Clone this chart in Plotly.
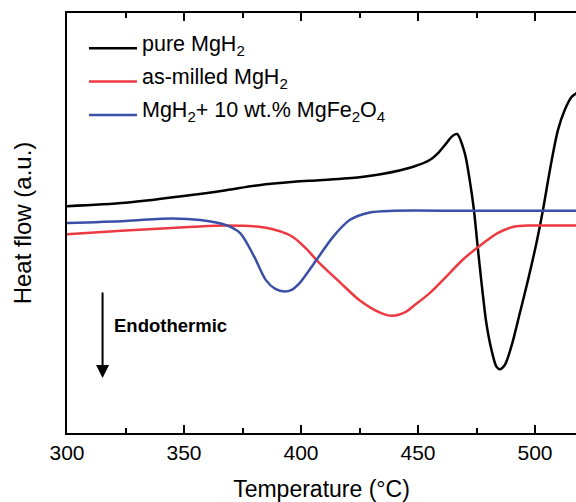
import plotly.graph_objects as go

# DSC traces: temperature (°C) vs heat flow (arbitrary units)
temp_pure = [300, 325, 354, 368, 382, 397, 408, 425, 434, 448, 455, 459, 462, 464.3, 466.7,
             470.0, 472.1, 473.9, 475.2, 476.4, 477.8, 479.2, 481.4, 483.5, 484.9, 487.1,
             489.9, 493.5, 497.0, 500.6, 503.4, 505.6, 507.7, 509.8, 512.7, 515.6, 517.4, 520]
hf_pure = [54.0, 54.8, 56.7, 57.8, 59.0, 59.8, 60.2, 60.9, 61.6, 63.4, 65.0, 66.9, 68.9, 70.5, 71.2,
           66.6, 60.2, 53.1, 46.0, 39.6, 32.5, 26.2, 19.8, 15.8, 15.2, 16.2,
           20.6, 28.5, 36.4, 45.2, 53.1, 60.2, 66.6, 72.1, 76.9, 80.0, 80.8, 82.0]

temp_milled = [300, 325, 354, 368, 382, 388, 394, 397, 402, 408, 417, 425, 434, 439, 445,
               448, 455, 462, 469, 476, 484, 491, 498, 510, 520]
hf_milled = [47.3, 48.2, 49.1, 49.4, 49.1, 48.5, 47.4, 46.5, 44.0, 40.4, 35.7, 31.6, 28.6, 27.9, 28.9,
             30.2, 33.3, 37.2, 41.2, 44.4, 47.6, 49.1, 49.4, 49.4, 49.4]

temp_doped = [300, 325, 345, 357, 368, 374, 380, 385, 389, 393, 396, 399.4, 406.6, 413.7, 420.8,
              429.4, 439.3, 470, 500, 520]
hf_doped = [50.0, 50.5, 51.1, 50.7, 49.5, 47.6, 42.0, 36.4, 34.3, 33.7, 34.1, 35.7, 41.2, 46.7, 50.7,
            52.5, 52.9, 52.9, 52.9, 52.9]

series_names = ["pure MgH<sub>2</sub>",
                "as-milled MgH<sub>2</sub>",
                "MgH<sub>2</sub>+ 10 wt.% MgFe<sub>2</sub>O<sub>4</sub>"]
series_colors = ["#000000", "#ec3a42", "#3b4fa6"]

x_major = [300, 350, 400, 450, 500]

FONT = "Liberation Sans, Arial, sans-serif"
W, H = 576, 502
ML, MT, MB = 67, 13, 69
PW, PH = W - ML, H - MT - MB


def paper_x(px):
    return (px - ML) / PW


def paper_y(py):
    return (H - MB - py) / PH


fig = go.Figure()
for temps, vals, name, color in zip([temp_pure, temp_milled, temp_doped],
                                    [hf_pure, hf_milled, hf_doped],
                                    series_names, series_colors):
    fig.add_trace(go.Scatter(x=temps, y=vals, mode="lines", name=name,
                             line=dict(color=color, width=2.5, shape="spline", smoothing=0.8),
                             showlegend=False))

# legend drawn as short line samples with labels
for i, (name, color) in enumerate(zip(series_names, series_colors)):
    yrow = 48.3 + i * 33.3
    fig.add_shape(type="line", xref="paper", yref="paper",
                  x0=paper_x(89), x1=paper_x(137), y0=paper_y(yrow), y1=paper_y(yrow),
                  line=dict(color=color, width=2.5))
    fig.add_annotation(xref="paper", yref="paper", x=paper_x(140), y=paper_y(yrow - 3),
                       text=name, showarrow=False, xanchor="left", yanchor="middle",
                       font=dict(family=FONT, size=21.5, color="#000"))

# endothermic direction marker
fig.add_annotation(xref="x", yref="y", x=315.2, y=(H - MB - 378) * 100 / PH,
                   ax=0, ay=-87, axref="pixel", ayref="pixel", text="",
                   showarrow=True, arrowhead=2, arrowsize=1.3, arrowwidth=2, arrowcolor="#000")
fig.add_annotation(xref="paper", yref="paper", x=paper_x(112), y=paper_y(325),
                   text="<b>Endothermic</b>", showarrow=False, xanchor="left", yanchor="middle",
                   font=dict(family=FONT, size=18.5, color="#000"))

fig.update_layout(
    width=W, height=H,
    margin=dict(l=ML, r=0, t=MT, b=MB, autoexpand=False),
    paper_bgcolor="white", plot_bgcolor="white", showlegend=False,
    xaxis=dict(
        range=[300, 300 + PW / 2.34],
        tickmode="array", tickvals=x_major,
        ticks="inside", ticklen=8, tickwidth=2, tickcolor="black",
        showline=True, linewidth=2, linecolor="black", mirror="allticks",
        showgrid=False, zeroline=False,
        minor=dict(tickmode="linear", tick0=325, dtick=50, ticks="inside", ticklen=5,
                   tickwidth=2, tickcolor="black", showgrid=False),
        tickfont=dict(family=FONT, size=21, color="black"),
        title=dict(text="Temperature (°C)", standoff=19,
                   font=dict(family=FONT, size=23, color="black")),
    ),
    yaxis=dict(
        range=[0, 100], showline=True, linewidth=2, linecolor="black", mirror=False,
        showticklabels=False, ticks="", showgrid=False, zeroline=False,
        title=dict(text="Heat flow (a.u.)", standoff=27,
                   font=dict(family=FONT, size=24, color="black")),
    ),
)

fig.write_html("out.html")
